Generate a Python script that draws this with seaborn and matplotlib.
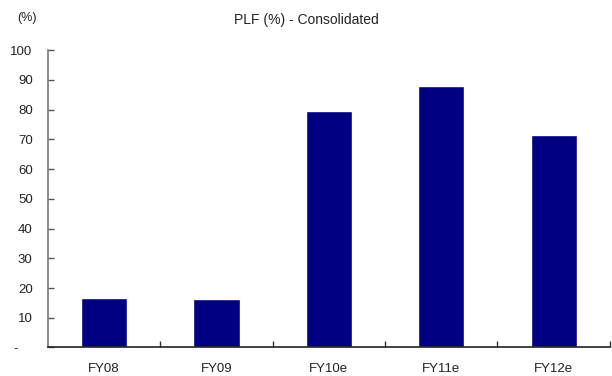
import matplotlib
matplotlib.use("Agg")
import matplotlib.pyplot as plt
import seaborn as sns
import pandas as pd

categories = ["FY08", "FY09", "FY10e", "FY11e", "FY12e"]
plf_values = [16.6, 16.3, 79.6, 87.8, 71.5]
y_ticks = [0, 10, 20, 30, 40, 50, 60, 70, 80, 90, 100]
y_tick_labels = ["-    ", "10", "20", "30", "40", "50", "60", "70", "80", "90", "100"]

sns.set_theme(style="white")
plt.rcParams["font.family"] = ["Liberation Sans", "DejaVu Sans"]

df = pd.DataFrame({"year": categories, "plf": plf_values})

fig = plt.figure(figsize=(6.12, 3.76), dpi=100)
ax = fig.add_axes([0.0784, 0.0758, 0.918, 0.791])

sns.barplot(data=df, x="year", y="plf", color="#000080", saturation=1,
            width=0.41, ax=ax)

ax.set_xlim(-0.5, len(categories) - 0.5)
ax.set_ylim(0, 100)
ax.set_yticks(y_ticks)
ax.set_yticklabels(y_tick_labels)
ax.set_xlabel("")
ax.set_ylabel("")

# category boundaries as minor ticks on the x axis
ax.set_xticks([i + 0.5 for i in range(len(categories))], minor=True)
ax.tick_params(axis="x", which="major", length=0, pad=11, labelsize=9.5,
               labelcolor="#222222")
ax.tick_params(axis="x", which="minor", direction="in", length=4,
               width=1, color="#333333", bottom=True)
ax.tick_params(axis="y", direction="in", length=4, width=1, color="#555555",
               pad=11, labelsize=9.5, labelcolor="#222222", left=True)

for side in ["top", "right"]:
    ax.spines[side].set_visible(False)
ax.spines["left"].set_color("#777777")
ax.spines["left"].set_linewidth(1.2)
ax.spines["bottom"].set_color("#222222")
ax.spines["bottom"].set_linewidth(1.2)

fig.text(0.5, 0.947, "PLF (%) - Consolidated", ha="center", va="center",
         fontsize=10, color="#222222")
fig.text(0.044, 0.952, "(%)", ha="center", va="center",
         fontsize=9, color="#222222")

fig.savefig("out.png", dpi=100)
